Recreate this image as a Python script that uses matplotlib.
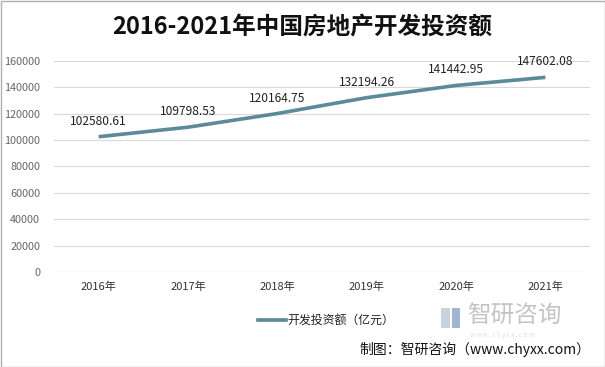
import matplotlib
matplotlib.use("Agg")
import matplotlib.pyplot as plt
from matplotlib.patches import Rectangle

plt.rcParams['font.family'] = ['Noto Sans CJK SC', 'DejaVu Sans']

years = ["2016年", "2017年", "2018年", "2019年", "2020年", "2021年"]
values = [102580.61, 109798.53, 120164.75, 132194.26, 141442.95, 147602.08]
yticks = [0, 20000, 40000, 60000, 80000, 100000, 120000, 140000, 160000]
title = "2016-2021年中国房地产开发投资额"
series_name = "开发投资额（亿元）"
source = "制图：智研咨询（www.chyxx.com）"

W, H = 605, 367
fig = plt.figure(figsize=(W/100, H/100), dpi=100)
fig.patch.set_facecolor('white')

ax = fig.add_axes([54/W, 1-272/H, (590-54)/W, (272-61)/H])
x = list(range(len(years)))
line_color = '#5B8A9B'
ax.plot(x, values, color=line_color, lw=2.6, solid_capstyle='butt', zorder=3)
for xi, v in zip(x, values):
    ax.annotate(f"{v:.2f}", (xi, v), xytext=(0, 6.5), textcoords='offset points',
                ha='center', va='bottom', fontsize=8.6, color='#222222')
ax.set_xlim(-0.5, len(years)-0.5)
ax.set_ylim(0, 160000)
ax.set_yticks(yticks)
ax.set_yticklabels([str(t) for t in yticks], fontsize=7.8, color='#666666')
ax.set_xticks(x)
ax.set_xticklabels(years, fontsize=8, color='#333333')
ax.tick_params(length=0, pad=7)
ax.tick_params(axis='y', pad=10)
ax.grid(axis='y', color='#D9D9D9', lw=0.8)
ax.set_axisbelow(True)
for s in ax.spines.values():
    s.set_visible(False)
ax.axhline(0, color='#D9D9D9', lw=0.8, zorder=1)

fig.text(302/W, 1-27/H, title, ha='center', va='center', fontsize=17,
         fontweight='bold', color='#111111')

# legend
fig.add_artist(plt.Line2D([258/W, 286/W], [1-320/H, 1-320/H], color=line_color, lw=2.6))
fig.text(287/W, 1-320/H, series_name, ha='left', va='center', fontsize=8.6, color='#222222')

# watermark
fig.add_artist(Rectangle((441/W, 1-328/H), 9/W, 20/H, color='#C9D3DF', lw=0))
fig.add_artist(Rectangle((452/W, 1-328/H), 8/W, 20/H, color='#9FB6D0', lw=0))
fig.text(467/W, 1-316/H, "智研咨询", ha='left', va='center', fontsize=17, color='#C4C4C4',
         fontweight='light')
fig.text(470/W, 1-335/H, "w w w . c h y x x . c o m", ha='left', va='center', fontsize=4.5, color='#E0E0E0')

fig.text(590/W, 1-349/H, source, ha='right', va='center', fontsize=10, color='#111111')

fig.add_artist(Rectangle((0.5/W, 0.5/H), (W-1)/W, (H-1)/H, fill=False, edgecolor='#B0B0B0', lw=1))

fig.savefig('out.png', dpi=100)
